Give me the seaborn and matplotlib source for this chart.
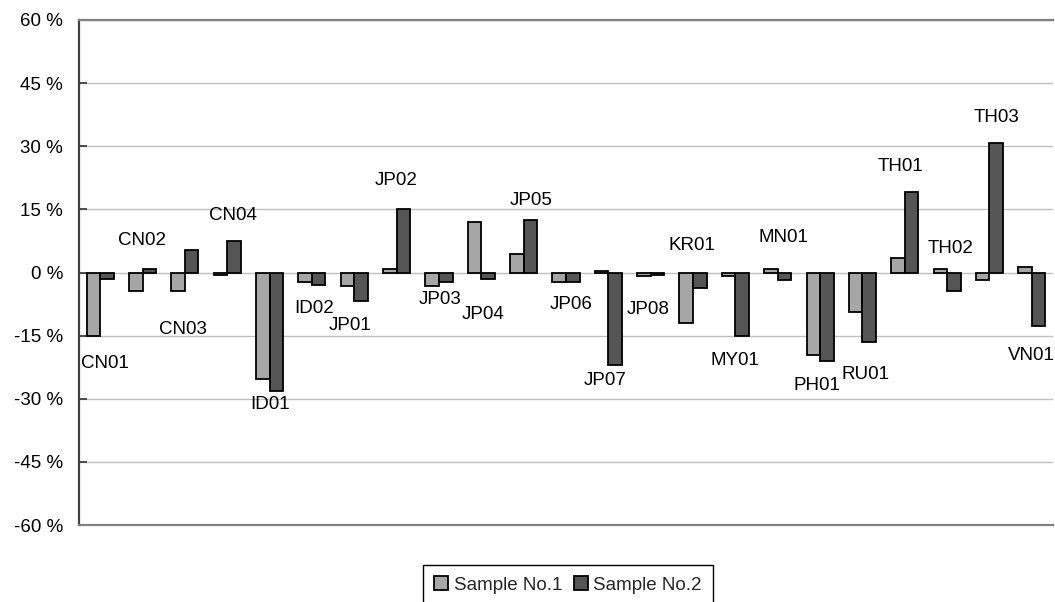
import matplotlib
matplotlib.use("Agg")
import matplotlib.pyplot as plt
import seaborn as sns
import pandas as pd
from matplotlib.ticker import FuncFormatter, MultipleLocator

# Relative deviation (%) per laboratory for two samples
labs = ["CN01", "CN02", "CN03", "CN04", "ID01", "ID02", "JP01", "JP02",
        "JP03", "JP04", "JP05", "JP06", "JP07", "JP08", "KR01", "MY01",
        "MN01", "PH01", "RU01", "TH01", "TH02", "TH03", "VN01"]
sample1 = [-15.0, -4.5, -4.5, -0.5, -25.4, -2.3, -3.1, 0.8,
           -3.1, 11.9, 4.4, -2.3, 0.4, -0.9, -12.0, -0.9,
           0.9, -19.7, -9.4, 3.4, 0.8, -1.9, 1.3]
sample2 = [-1.5, 0.8, 5.3, 7.5, -28.2, -2.9, -6.8, 15.0,
           -2.3, -1.5, 12.4, -2.3, -21.9, -0.6, -3.6, -15.2,
           -1.9, -21.0, -16.6, 19.1, -4.5, 30.7, -12.6]
series_names = ["Sample No.1", "Sample No.2"]

# Placement of each laboratory's name: vertical position (in %) and
# horizontal nudge (in category widths)
label_y = [-21.7, 7.5, -13.6, 13.6, -31.4, -8.6, -12.6, 21.9,
           -6.3, -10.0, 17.0, -7.7, -25.7, -8.9, 6.3, -21.0,
           8.2, -26.9, -24.3, 25.2, 5.6, 36.8, -19.8]
label_dx = [0.12, -0.02, -0.05, 0.14, 0.02, 0.05, -0.1, -0.02,
            0.02, 0.05, 0.17, 0.12, -0.07, -0.07, -0.02, -0.02,
            0.14, -0.07, 0.07, -0.1, 0.07, 0.17, -0.02]

df = pd.DataFrame({
    "lab": labs * 2,
    "value": sample1 + sample2,
    "series": [series_names[0]] * len(labs) + [series_names[1]] * len(labs),
})

sns.set_style("white")
plt.rcParams["font.family"] = ["Liberation Sans", "DejaVu Sans"]
plt.rcParams["font.size"] = 13.5

W, H = 1055, 602
fig = plt.figure(figsize=(W / 100, H / 100), dpi=100)
ax = fig.add_axes([79 / W, 1 - 525 / H, (1053 - 79) / W, (525 - 20) / H])

palette = {"Sample No.1": "#a6a6a6", "Sample No.2": "#555555"}
sns.barplot(data=df, x="lab", y="value", hue="series", order=labs,
            hue_order=series_names, palette=palette, width=0.64, gap=0,
            edgecolor="black", linewidth=1.3, saturation=1, ax=ax,
            legend=True, zorder=3)

ax.set_xlim(-0.5, len(labs) - 0.5)
ax.set_ylim(-60, 60)
ax.yaxis.set_major_locator(MultipleLocator(15))
ax.yaxis.set_major_formatter(FuncFormatter(lambda v, _: f"{v:.0f} %"))
ax.grid(axis="y", color="#c0c0c0", linewidth=1.0, zorder=0)
ax.set_axisbelow(True)
ax.set_xticks([])
ax.set_xlabel("")
ax.set_ylabel("")
ax.tick_params(axis="y", direction="in", length=6, width=1.3,
               color="#404040", pad=11.5, labelsize=13.5, labelcolor="black",
               left=True)

for side in ("top", "bottom"):
    ax.spines[side].set_color("#808080")
    ax.spines[side].set_linewidth(1.6)
ax.spines["left"].set_color("#404040")
ax.spines["left"].set_linewidth(1.6)
ax.spines["right"].set_visible(False)

for i, (name, y, dx) in enumerate(zip(labs, label_y, label_dx)):
    ax.text(i + dx, y, name, ha="center", va="center", fontsize=13.5,
            color="black", zorder=4)

handles, lbls = ax.get_legend_handles_labels()
ax.get_legend().remove()
leg = fig.legend(handles, lbls, loc="upper center", ncol=2,
                 bbox_to_anchor=(568 / W, 1 - 565 / H),
                 frameon=True, fancybox=False, shadow=False,
                 edgecolor="black", framealpha=1, fontsize=13.5,
                 handlelength=0.75, handleheight=0.75, handletextpad=0.3,
                 columnspacing=0.6, borderpad=0.6, borderaxespad=0)
leg.get_frame().set_linewidth(1.0)

fig.savefig("out.png", dpi=100)
